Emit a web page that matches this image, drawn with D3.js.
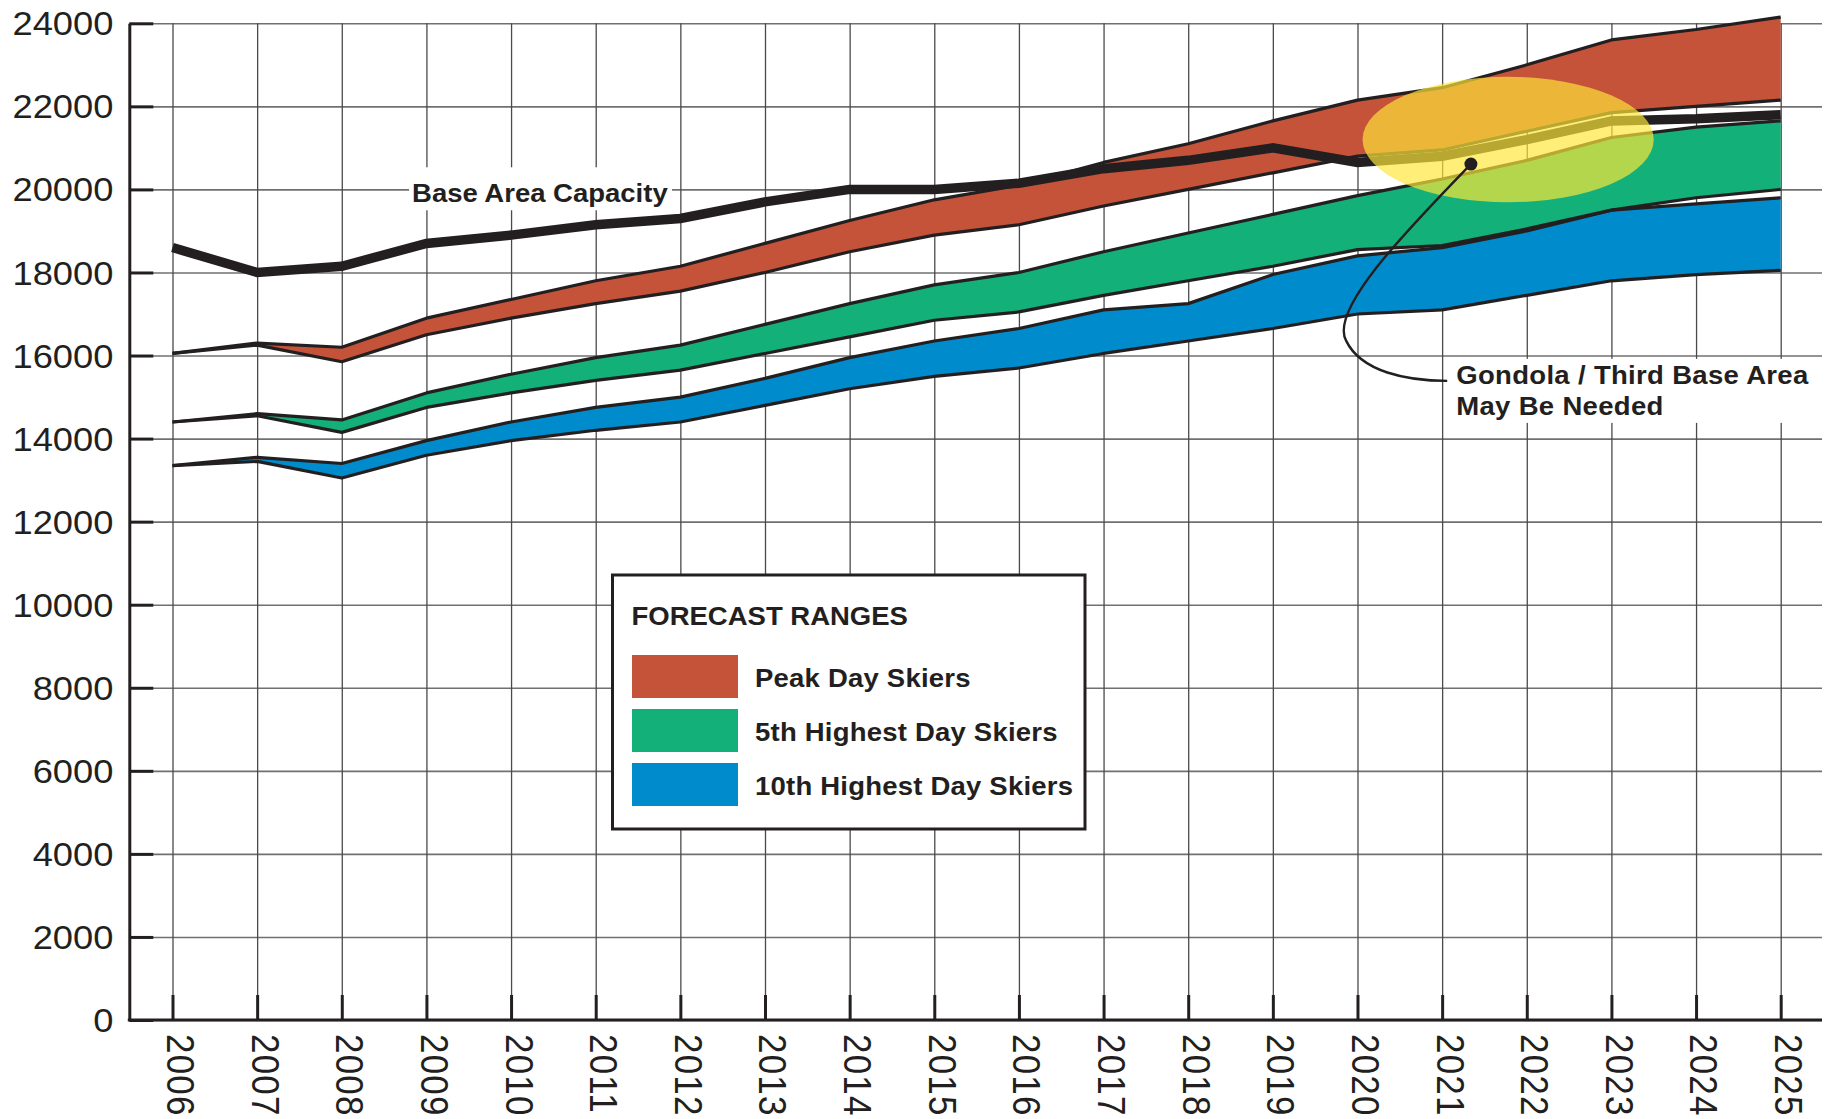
<!DOCTYPE html>
<html>
<head>
<meta charset="utf-8">
<script src="https://cdn.jsdelivr.net/npm/d3@7"></script>
<style>
  html, body { margin: 0; padding: 0; background: #fff; }
  svg { display: block; }
</style>
</head>
<body>
<svg id="chart" width="1833" height="1119"></svg>
<script>
// Season years on the horizontal axis
const years = [2006, 2007, 2008, 2009, 2010, 2011, 2012, 2013, 2014, 2015,
               2016, 2017, 2018, 2019, 2020, 2021, 2022, 2023, 2024, 2025];

// Base area capacity (skiers)
const capacity = [18600, 18000, 18150, 18700, 18900, 19150, 19300, 19700, 20000, 20000,
                  20150, 20500, 20700, 21000, 20650, 20800, 21200, 21650, 21700, 21800];

// Peak day skiers, forecast range
const peakHigh = [16050, 16300, 16200, 16900, 17350, 17800, 18150, 18700, 19250, 19750,
                  20100, 20650, 21100, 21650, 22150, 22450, 23000, 23600, 23850, 24150];
const peakLow  = [16050, 16250, 15850, 16500, 16900, 17250, 17550, 18000, 18500, 18900,
                  19150, 19600, 20000, 20400, 20800, 20950, 21400, 21850, 22000, 22150];

// 5th highest day skiers, forecast range
const fifthHigh = [14400, 14600, 14450, 15100, 15550, 15950, 16250, 16750, 17250, 17700,
                   18000, 18500, 18950, 19400, 19850, 20250, 20700, 21250, 21500, 21650];
const fifthLow  = [14400, 14550, 14150, 14750, 15100, 15400, 15650, 16050, 16450, 16850,
                   17050, 17450, 17800, 18150, 18550, 18650, 19050, 19500, 19800, 20000];

// 10th highest day skiers, forecast range
const tenthHigh = [13350, 13550, 13400, 13950, 14400, 14750, 15000, 15450, 15950, 16350,
                   16650, 17100, 17250, 17950, 18400, 18600, 19000, 19500, 19650, 19800];
const tenthLow  = [13350, 13450, 13050, 13600, 13950, 14200, 14400, 14800, 15200, 15500,
                   15700, 16050, 16350, 16650, 17000, 17100, 17450, 17800, 17950, 18050];

const yTicks = [0, 2000, 4000, 6000, 8000, 10000, 12000, 14000, 16000, 18000, 20000, 22000, 24000];

const bandNames  = ["Peak Day Skiers", "5th Highest Day Skiers", "10th Highest Day Skiers"];
const bandColors = ["#c4533a", "#14b07a", "#008ccc"];

// ---------------------------------------------------------------------------
const ink = "#231f20";
const font = "'Liberation Sans', Arial, Helvetica, sans-serif";
const stretch = "scale(1.1,1)";

const plotLeft = 129.3, plotRight = 1822;
const x = d3.scaleLinear().domain([2006, 2025]).range([172.5, 1780.7]);
const y = d3.scaleLinear().domain([0, 24000]).range([1020, 23.3]);
const plotTop = y(24000), plotBottom = y(0);

const svg = d3.select("#chart");

// Grid
svg.append("g")
  .attr("transform", `translate(${plotLeft},0)`)
  .call(d3.axisLeft(y).tickValues(yTicks).tickSize(-(plotRight - plotLeft)).tickFormat(""))
  .call(g => g.select(".domain").remove())
  .call(g => g.selectAll("line").attr("stroke", "#707070").attr("stroke-width", 1.6));

svg.append("g")
  .attr("transform", `translate(0,${plotTop})`)
  .call(d3.axisBottom(x).tickValues(years).tickSize(plotBottom - plotTop).tickFormat(""))
  .call(g => g.select(".domain").remove())
  .call(g => g.selectAll("line").attr("stroke", "#4a4a4a").attr("stroke-width", 1.3));

// Forecast bands
const bands = [
  { name: bandNames[2], color: bandColors[2], high: tenthHigh, low: tenthLow },
  { name: bandNames[1], color: bandColors[1], high: fifthHigh, low: fifthLow },
  { name: bandNames[0], color: bandColors[0], high: peakHigh,  low: peakLow  }
];

const area = d3.area()
  .x(d => x(d.year)).y0(d => y(d.low)).y1(d => y(d.high));
const edge = d3.line().x(d => x(d.year)).y(d => y(d.v));

const bandRows = bands.map(b => years.map((yr, i) => ({ year: yr, high: b.high[i], low: b.low[i] })));

svg.append("g").selectAll("path")
  .data(bands).join("path")
  .attr("d", (b, i) => area(bandRows[i]))
  .attr("fill", b => b.color);

const edgeG = svg.append("g");
bands.forEach(b => {
  [b.high, b.low].forEach(vals => {
    edgeG.append("path")
      .attr("d", edge(years.map((yr, i) => ({ year: yr, v: vals[i] }))))
      .attr("fill", "none").attr("stroke", ink).attr("stroke-width", 3.2)
      .attr("stroke-linejoin", "round");
  });
});

// Base area capacity line
svg.append("path")
  .attr("d", edge(years.map((yr, i) => ({ year: yr, v: capacity[i] }))))
  .attr("fill", "none").attr("stroke", ink).attr("stroke-width", 9.5)
  .attr("stroke-linejoin", "miter");

// Highlight where demand crosses capacity
const hl = { year: 2021.78, v: 21200, ry: 1510, rx: 1.72 };
svg.append("ellipse")
  .attr("cx", x(hl.year)).attr("cy", y(hl.v))
  .attr("rx", x(hl.year + hl.rx) - x(hl.year))
  .attr("ry", y(hl.v - hl.ry) - y(hl.v))
  .attr("fill", "#ffe838").attr("fill-opacity", 0.68);

// Annotation leader and dot
const dot = [x(2021.34), y(20610)];
const tip = [x(2021.06), y(15390)];
svg.append("path")
  .attr("d", `M${dot[0]},${dot[1]} C${dot[0] - 70},${dot[1] + 72} ${tip[0] - 118},${tip[1] - 70} ${tip[0] - 101},${tip[1] - 40}` +
             ` C${tip[0] - 86},${tip[1] - 9} ${tip[0] - 40},${tip[1]} ${tip[0]},${tip[1]}`)
  .attr("fill", "none").attr("stroke", ink).attr("stroke-width", 2.4);
svg.append("circle").attr("cx", dot[0]).attr("cy", dot[1]).attr("r", 6.5).attr("fill", ink);

// Annotation text with a white knockout
const annoX = tip[0] + 9, annoY = tip[1] + 3;
svg.append("rect")
  .attr("x", annoX - 6).attr("y", annoY - 25).attr("width", 365).attr("height", 64)
  .attr("fill", "#fff");
const anno = svg.append("text")
  .attr("transform", `translate(${annoX},${annoY}) ${stretch}`)
  .attr("font-family", font).attr("font-weight", "bold").attr("font-size", 25)
  .attr("letter-spacing", 0.3)
  .attr("fill", ink);
anno.append("tspan").attr("x", 0).attr("y", 0).text("Gondola / Third Base Area");
anno.append("tspan").attr("x", 0).attr("y", 31).text("May Be Needed");

// Capacity label with a white knockout
const capX = x(2008.83), capY = y(19690);
svg.append("rect")
  .attr("x", capX - 3).attr("y", capY - 35).attr("width", 263).attr("height", 43)
  .attr("fill", "#fff");
svg.append("text")
  .attr("transform", `translate(${capX},${capY}) ${stretch}`)
  .attr("font-family", font).attr("font-weight", "bold").attr("font-size", 25)
  .attr("fill", ink).text("Base Area Capacity");

// Axes
const yAxis = svg.append("g")
  .attr("transform", `translate(${plotLeft},0)`)
  .call(d3.axisLeft(y).tickValues(yTicks).tickSize(-24).tickSizeOuter(0).tickPadding(14.5)
          .tickFormat(d3.format("d")));
yAxis.select(".domain").attr("stroke", ink).attr("stroke-width", 3);
yAxis.selectAll(".tick line").attr("stroke", ink).attr("stroke-width", 3);
yAxis.selectAll(".tick text")
  .attr("font-family", font).attr("font-size", 33).attr("fill", ink)
  .attr("dy", "0.35em").attr("transform", stretch);

const xAxis = svg.append("g")
  .attr("transform", `translate(0,${plotBottom})`)
  .call(d3.axisBottom(x).tickValues(years).tickSize(-25).tickSizeOuter(0)
          .tickFormat(d3.format("d")));
xAxis.select(".domain").remove();
xAxis.selectAll(".tick line").attr("stroke", ink).attr("stroke-width", 3);
xAxis.selectAll(".tick text")
  .attr("font-family", font).attr("font-size", 35).attr("fill", ink)
  .attr("letter-spacing", 1.2)
  .attr("text-anchor", "start")
  .attr("x", 14).attr("y", 5.5).attr("dy", null)
  .attr("transform", `${stretch} rotate(90)`);

svg.append("line")
  .attr("x1", plotLeft - 1.5).attr("x2", plotRight)
  .attr("y1", plotBottom).attr("y2", plotBottom)
  .attr("stroke", ink).attr("stroke-width", 3);

// Legend
const lg = svg.append("g").attr("transform", "translate(612.5,575)");
lg.append("rect").attr("width", 472.5).attr("height", 254)
  .attr("fill", "#fff").attr("stroke", ink).attr("stroke-width", 3);
lg.append("text")
  .attr("transform", `translate(19,50) ${stretch}`)
  .attr("font-family", font).attr("font-weight", "bold").attr("font-size", 25)
  .attr("fill", ink).text("FORECAST RANGES");
const items = lg.selectAll("g.item")
  .data(bandNames.map((n, i) => ({ name: n, color: bandColors[i] })))
  .join("g").attr("class", "item")
  .attr("transform", (d, i) => `translate(19.5,${80 + i * 54})`);
items.append("rect").attr("width", 106).attr("height", 43).attr("fill", d => d.color);
items.append("text")
  .attr("transform", `translate(123,31.5) ${stretch}`)
  .attr("font-family", font).attr("font-weight", "bold").attr("font-size", 25)
  .attr("letter-spacing", 0.2)
  .attr("fill", ink).text(d => d.name);
</script>
</body>
</html>
